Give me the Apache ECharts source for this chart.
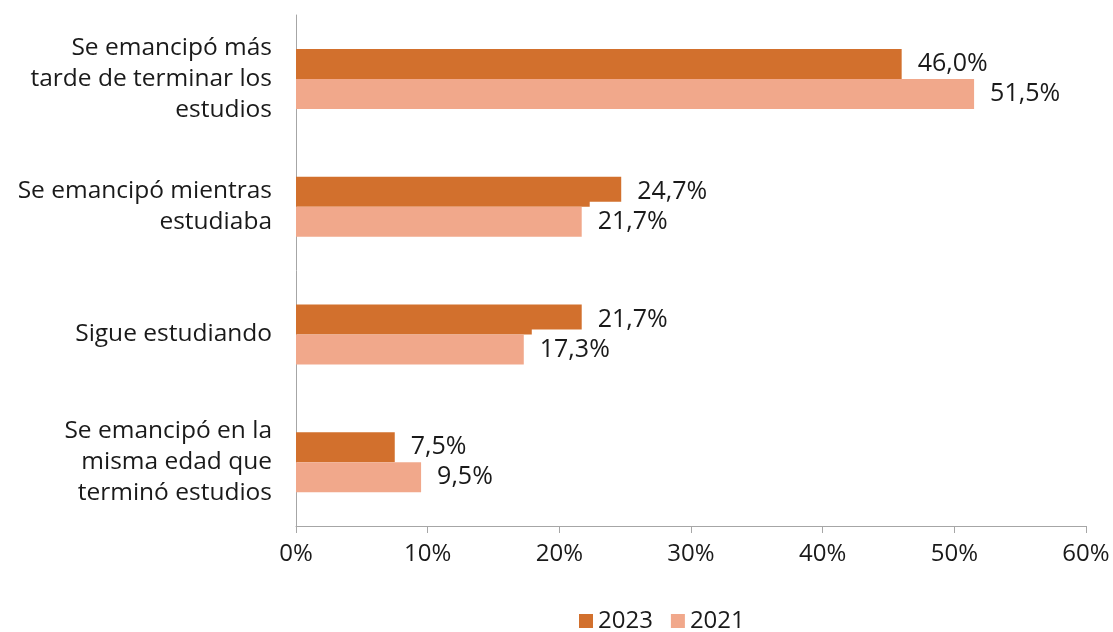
<!DOCTYPE html>
<html>
<head>
<meta charset="utf-8">
<script src="https://cdn.jsdelivr.net/npm/echarts@6/dist/echarts.min.js"></script>
<style>html,body{margin:0;padding:0;background:#fff;}#c{width:1113px;height:632px;}</style>
</head>
<body>
<div id="c"></div>
<script>
const categories = [
  "Se emancipó más\ntarde de terminar los\nestudios",
  "Se emancipó mientras\nestudiaba",
  "Sigue estudiando",
  "Se emancipó en la\nmisma edad que\nterminó estudios"
];
const values2023 = [46.0, 24.7, 21.7, 7.5];
const values2021 = [51.5, 21.7, 17.3, 9.5];
const xTicks = [0, 10, 20, 30, 40, 50, 60];

const FONT = "'Open Sans', 'Noto Sans', sans-serif";
const FS = 25;
const fmt = v => v.toFixed(1).replace('.', ',') + '%';

const chart = echarts.init(document.getElementById('c'), null, {renderer: 'canvas'});
chart.setOption({
  animation: false,
  textStyle: {fontFamily: FONT},
  grid: {left: 296, right: 27, top: 15, bottom: 106, containLabel: false},
  legend: {
    data: ['2023', '2021'],
    left: 574, top: 604,
    itemWidth: 14, itemHeight: 14, itemGap: 18,
    icon: 'rect',
    textStyle: {fontFamily: FONT, fontSize: FS - 1, color: '#1a1a1a'}
  },
  xAxis: {
    type: 'value', min: xTicks[0], max: xTicks[xTicks.length - 1], interval: 10,
    axisLine: {show: true, lineStyle: {color: '#a6a6a6', width: 1}},
    axisTick: {show: true, length: 7, lineStyle: {color: '#a6a6a6'}},
    splitLine: {show: false},
    axisLabel: {formatter: v => v + '%', fontFamily: FONT, fontSize: FS - 1, color: '#1a1a1a', margin: 16}
  },
  yAxis: {
    type: 'category', data: categories, inverse: true,
    axisLine: {show: true, lineStyle: {color: '#a6a6a6', width: 1}},
    axisTick: {show: false},
    axisLabel: {fontFamily: FONT, fontSize: FS - 0.5, color: '#1a1a1a', lineHeight: 31, align: 'right', margin: 24}
  },
  series: [
    {
      name: '2023', type: 'bar', data: values2023, barWidth: 30, barGap: '0%',
      itemStyle: {color: '#D2702D'},
      label: {show: true, position: 'right', distance: 16, formatter: p => fmt(p.value),
        fontFamily: FONT, fontSize: FS, color: '#1a1a1a'}
    },
    {
      name: '2021', type: 'bar', data: values2021, barWidth: 30, barGap: '0%',
      itemStyle: {color: '#F1A88B'},
      label: {show: true, position: 'right', distance: 8, formatter: p => fmt(p.value),
        fontFamily: FONT, fontSize: FS, color: '#1a1a1a', backgroundColor: '#ffffff',
        padding: [7, 8, 7, 8], lineHeight: 26}
    }
  ]
});
</script>
</body>
</html>
